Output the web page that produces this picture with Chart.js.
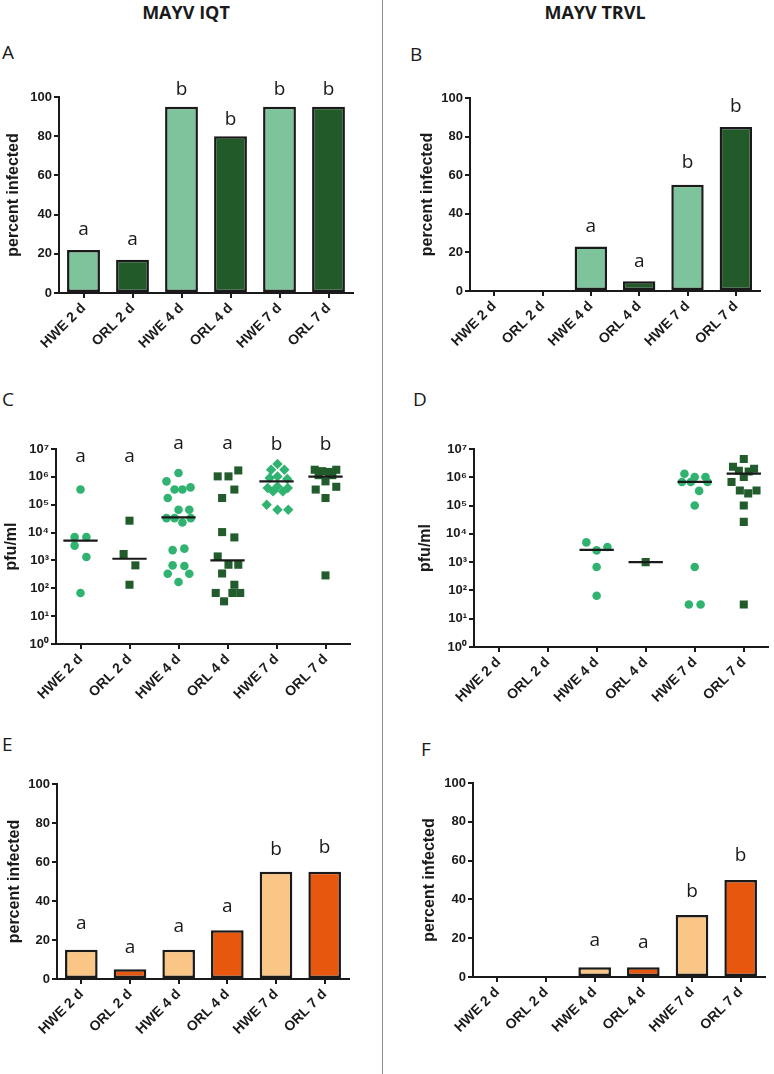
<!DOCTYPE html>
<html>
<head>
<meta charset="utf-8">
<script src="https://cdn.jsdelivr.net/npm/chart.js@4.4.1/dist/chart.umd.min.js"></script>
<style>
  body { margin: 0; background: #fff; width: 774px; height: 1074px; position: relative; overflow: hidden; font-family: 'Open Sans', sans-serif; color: #1a1a1a; }
  .box { position: absolute; }
  .lbl { position: absolute; font-size: 19px; line-height: 19px; }
  .ttl { position: absolute; width: 200px; text-align: center; font-weight: bold; font-size: 18px; line-height: 18px; }
  #sep { position: absolute; left: 382px; top: 0; width: 1px; height: 1074px; background: #8a8a8a; }
</style>
</head>
<body>
<div class="ttl" style="left:86px;top:3px">MAYV IQT</div>
<div class="ttl" style="left:495px;top:3px">MAYV TRVL</div>
<div id="sep"></div>
<div class="lbl" style="left:2px;top:43px">A</div>
<div class="lbl" style="left:410px;top:45px">B</div>
<div class="lbl" style="left:2px;top:390px">C</div>
<div class="lbl" style="left:413px;top:390px">D</div>
<div class="lbl" style="left:2px;top:735px">E</div>
<div class="lbl" style="left:421px;top:740px">F</div>
<div class="box" id="pA"><canvas></canvas></div>
<div class="box" id="pB"><canvas></canvas></div>
<div class="box" id="pC"><canvas></canvas></div>
<div class="box" id="pD"><canvas></canvas></div>
<div class="box" id="pE"><canvas></canvas></div>
<div class="box" id="pF"><canvas></canvas></div>
<script>
const categories = ['HWE 2 d', 'ORL 2 d', 'HWE 4 d', 'ORL 4 d', 'HWE 7 d', 'ORL 7 d'];

// percent infected (bars)
const aValues = [22, 17, 95, 80, 95, 95];
const aLetters = ['a', 'a', 'b', 'b', 'b', 'b'];
const aLetterAt = [29.5, 24.4, 100.8, 85.5, 100.8, 100.8];

const bValues = [0, 0, 23, 5, 55, 85];
const bLetters = ['', '', 'a', 'a', 'b', 'b'];
const bLetterAt = [0, 0, 30.5, 12.6, 63.7, 92.7];

const eValues = [15, 5, 15, 25, 55, 55];
const eLetters = ['a', 'a', 'a', 'a', 'b', 'b'];
const eLetterAt = [25.6, 13.2, 24.3, 34.5, 63.6, 64.5];

const fValues = [0, 0, 5, 5, 32, 50];
const fLetters = ['', '', 'a', 'a', 'b', 'b'];
const fLetterAt = [0, 0, 16.2, 14.9, 41.4, 59.9];

const pctTicks = [0, 20, 40, 60, 80, 100];
const logTicks = [1, 10, 100, 1e3, 1e4, 1e5, 1e6, 1e7];

// pfu/ml titers (dots), with horizontal spread in category units
const cHwe2 = [3.5e5, 6900, 6900, 3400, 1330, 68];
const cHwe2Jit = [0, -0.12, 0.12, -0.12, 0.12, 0];
const cOrl2 = [26700, 1700, 665, 134];
const cOrl2Jit = [0, -0.12, 0.12, 0];
const cHwe4 = [1.37e6, 6.9e5, 3.5e5, 3.5e5, 4.2e5, 1.74e5, 6.6e4, 6.6e4, 3.3e4, 3.3e4, 2.3e4, 3.3e4, 2350, 2650, 665, 630, 333, 333, 169];
const cHwe4Jit = [0, -0.245, -0.08, 0.08, 0.245, -0.22, 0, 0.22, -0.245, -0.08, 0.08, 0.25, -0.12, 0.12, -0.12, 0.12, -0.22, 0.22, 0];
const cOrl4 = [1.7e6, 1.04e6, 1.04e6, 3.5e5, 1.74e5, 10400, 6700, 1390, 700, 700, 340, 134, 68, 68, 68, 34];
const cOrl4Jit = [0.22, -0.2, 0.02, 0.14, -0.11, -0.11, 0.14, -0.2, 0.02, 0.22, -0.11, 0.14, -0.24, 0.1, 0.26, -0.07];
const cHwe7 = [2.9e6, 1.8e6, 1.8e6, 9.1e5, 1.04e6, 8.4e5, 4e5, 4.5e5, 4e5, 3e5, 3e5, 1e5, 6.6e4, 6.6e4];
const cHwe7Jit = [0.02, -0.11, 0.16, -0.14, 0.02, 0.22, -0.18, 0.02, 0.23, -0.07, 0.13, -0.2, 0.02, 0.24];
const cOrl7 = [1.8e6, 1.6e6, 1.5e6, 1.8e6, 1.15e6, 1.15e6, 6.9e5, 3.5e5, 4.4e5, 1.74e5, 290];
const cOrl7Jit = [-0.22, -0.07, 0.07, 0.22, -0.14, 0.14, 0, -0.2, 0.22, 0, 0];
const cMedians = [5100, 1150, 35000, 1000, 6.9e5, 1.02e6];
const cLetters = ['a', 'a', 'a', 'a', 'b', 'b'];
const cLetterAt = [3.5e6, 3.5e6, 1e7, 1e7, 9.3e6, 9.3e6];

const dHwe2 = [];
const dOrl2 = [];
const dHwe4 = [5000, 2600, 3450, 670, 65];
const dHwe4Jit = [-0.21, 0, 0.22, 0, 0];
const dOrl4 = [1000];
const dOrl4Jit = [0];
const dHwe7 = [1.34e6, 1.02e6, 1.02e6, 6.8e5, 6.8e5, 6.8e5, 3.3e5, 1e5, 670, 32, 32];
const dHwe7Jit = [-0.21, 0, 0.22, -0.26, -0.08, 0.26, 0.09, 0, 0, -0.12, 0.12];
const dOrl7 = [4.4e6, 2.35e6, 2e6, 1.7e6, 1.6e6, 1.02e6, 6.8e5, 3.4e5, 2.7e5, 3.4e5, 1e5, 2.65e4, 32];
const dOrl7Jit = [0, -0.22, 0.21, -0.1, 0.1, 0, -0.25, -0.08, 0.09, 0.26, 0, 0, 0];
const dMedians = [null, null, 2700, 1000, 6.9e5, 1.34e6];

const ink = '#1a1a1a';
const lightGreen = '#7dc49c', darkGreen = '#225a2a';
const lightOrange = '#f9c685', darkOrange = '#e8570e';
const dotGreen = '#30b371', dotDark = '#235c2c';
const sup = ['⁰', '¹', '²', '³', '⁴', '⁵', '⁶', '⁷'];

const yTickFont = { family: 'Liberation Sans', weight: 'bold', size: 13 };
const xTickFont = { family: 'Liberation Sans', weight: 'bold', size: 14 };
const titleFont = { family: 'Liberation Sans', weight: 'bold', size: 16 };

function place(id, left, top, width, height) {
  const div = document.getElementById(id);
  Object.assign(div.style, { left: left + 'px', top: top + 'px', width: width + 'px', height: height + 'px' });
  const cv = div.querySelector('canvas');
  cv.width = width; cv.height = height;
  cv.style.width = width + 'px'; cv.style.height = height + 'px';
  return cv;
}

function letterPlugin(letters, at) {
  return {
    id: 'letters',
    afterDatasetsDraw(chart) {
      const { ctx, scales: { x, y } } = chart;
      ctx.save();
      ctx.font = '19px "Open Sans"';
      ctx.fillStyle = ink;
      ctx.textAlign = 'center';
      ctx.textBaseline = 'alphabetic';
      letters.forEach((t, i) => {
        if (t) ctx.fillText(t, x.getPixelForValue(i), y.getPixelForValue(at[i]));
      });
      ctx.restore();
    }
  };
}

const axisGrid = { display: true, drawOnChartArea: false, offset: false, tickLength: 5, lineWidth: 2, color: ink };
const axisBorder = { display: true, width: 2, color: ink };
const xTicks = { font: xTickFont, color: ink, minRotation: 45, maxRotation: 45, autoSkip: false, padding: 2 };

function barChart(cv, values, colors, letters, letterAt, yw, pad) {
  new Chart(cv, {
    type: 'bar',
    data: {
      labels: categories,
      datasets: [{
        data: values,
        backgroundColor: colors,
        borderColor: ink,
        borderWidth: c => (c.raw === 0 ? 0 : 2.5),
        borderSkipped: false,
        categoryPercentage: 1,
        barPercentage: 0.67
      }]
    },
    options: {
      responsive: false, animation: false, events: [],
      layout: { padding: pad },
      plugins: { legend: { display: false }, tooltip: { enabled: false } },
      scales: {
        x: {
          grid: axisGrid, border: axisBorder, ticks: xTicks,
          afterFit: s => { s.height = 70; }
        },
        y: {
          min: 0, max: 100,
          afterBuildTicks: s => { s.ticks = pctTicks.map(v => ({ value: v })); },
          grid: axisGrid, border: axisBorder,
          ticks: { font: yTickFont, color: ink, padding: 2 },
          title: { display: true, text: 'percent infected', font: titleFont, color: ink, padding: 0 },
          afterFit: s => { s.width = yw; }
        }
      }
    },
    plugins: [letterPlugin(letters, letterAt)]
  });
}

function dotChart(cv, groups, medians, letters, letterAt, yw, pad) {
  const medianPts = [];
  medians.forEach((m, i) => {
    if (m === null) return;
    medianPts.push({ x: i - 0.35, y: m }, { x: i + 0.35, y: m }, { x: i, y: null });
  });
  const sets = [{
    data: medianPts, showLine: true, spanGaps: false, borderColor: ink, borderWidth: 2.2, pointRadius: 0
  }];
  groups.forEach((g, i) => {
    sets.push({
      data: g.values.map((v, k) => ({ x: i + g.jit[k], y: v })),
      pointStyle: g.style,
      pointRadius: g.style === 'circle' ? 4.3 : (g.style === 'rect' ? 5.7 : 5.2),
      backgroundColor: g.color,
      borderWidth: 0
    });
  });
  new Chart(cv, {
    type: 'scatter',
    data: { datasets: sets },
    options: {
      responsive: false, animation: false, events: [],
      layout: { padding: pad },
      plugins: { legend: { display: false }, tooltip: { enabled: false } },
      scales: {
        x: {
          type: 'linear', min: -0.5, max: 5.5,
          afterBuildTicks: s => { s.ticks = categories.map((c, i) => ({ value: i })); },
          grid: axisGrid, border: axisBorder,
          ticks: Object.assign({}, xTicks, { callback: v => categories[v] }),
          afterFit: s => { s.height = 70; }
        },
        y: {
          type: 'logarithmic', min: 1, max: 1e7,
          afterBuildTicks: s => { s.ticks = logTicks.map(v => ({ value: v })); },
          grid: axisGrid, border: axisBorder,
          ticks: { font: yTickFont, color: ink, padding: 2, callback: v => '10' + sup[Math.round(Math.log10(v))] },
          title: { display: true, text: 'pfu/ml', font: titleFont, color: ink, padding: 0 },
          afterFit: s => { s.width = yw; }
        }
      }
    },
    plugins: [letterPlugin(letters, letterAt)]
  });
}

const greens = [lightGreen, darkGreen, lightGreen, darkGreen, lightGreen, darkGreen];
const oranges = [lightOrange, darkOrange, lightOrange, darkOrange, lightOrange, darkOrange];

barChart(place('pA', 4, 55, 364, 308), aValues, greens, aLetters, aLetterAt, 55, { top: 42, right: 15 });
barChart(place('pB', 418, 55, 352, 306), bValues, greens, bLetters, bLetterAt, 52, { top: 43, right: 10 });
barChart(place('pE', 5, 760, 359, 289), eValues, oranges, eLetters, eLetterAt, 52, { top: 24, right: 15 });
barChart(place('pF', 420, 760, 353, 287), fValues, oranges, fLetters, fLetterAt, 53, { top: 23, right: 8 });

dotChart(place('pC', 2, 415, 363, 299), [
  { values: cHwe2, jit: cHwe2Jit, style: 'circle', color: dotGreen },
  { values: cOrl2, jit: cOrl2Jit, style: 'rect', color: dotDark },
  { values: cHwe4, jit: cHwe4Jit, style: 'circle', color: dotGreen },
  { values: cOrl4, jit: cOrl4Jit, style: 'rect', color: dotDark },
  { values: cHwe7, jit: cHwe7Jit, style: 'rectRot', color: dotGreen },
  { values: cOrl7, jit: cOrl7Jit, style: 'rect', color: dotDark }
], cMedians, cLetters, cLetterAt, 54, { top: 34, right: 15 });

dotChart(place('pD', 416, 415, 358, 302), [
  { values: dHwe2, jit: [], style: 'circle', color: dotGreen },
  { values: dOrl2, jit: [], style: 'rect', color: dotDark },
  { values: dHwe4, jit: dHwe4Jit, style: 'circle', color: dotGreen },
  { values: dOrl4, jit: dOrl4Jit, style: 'rect', color: dotDark },
  { values: dHwe7, jit: dHwe7Jit, style: 'circle', color: dotGreen },
  { values: dOrl7, jit: dOrl7Jit, style: 'rect', color: dotDark }
], dMedians, [], [], 58, { top: 34, right: 2 });
</script>
</body>
</html>
